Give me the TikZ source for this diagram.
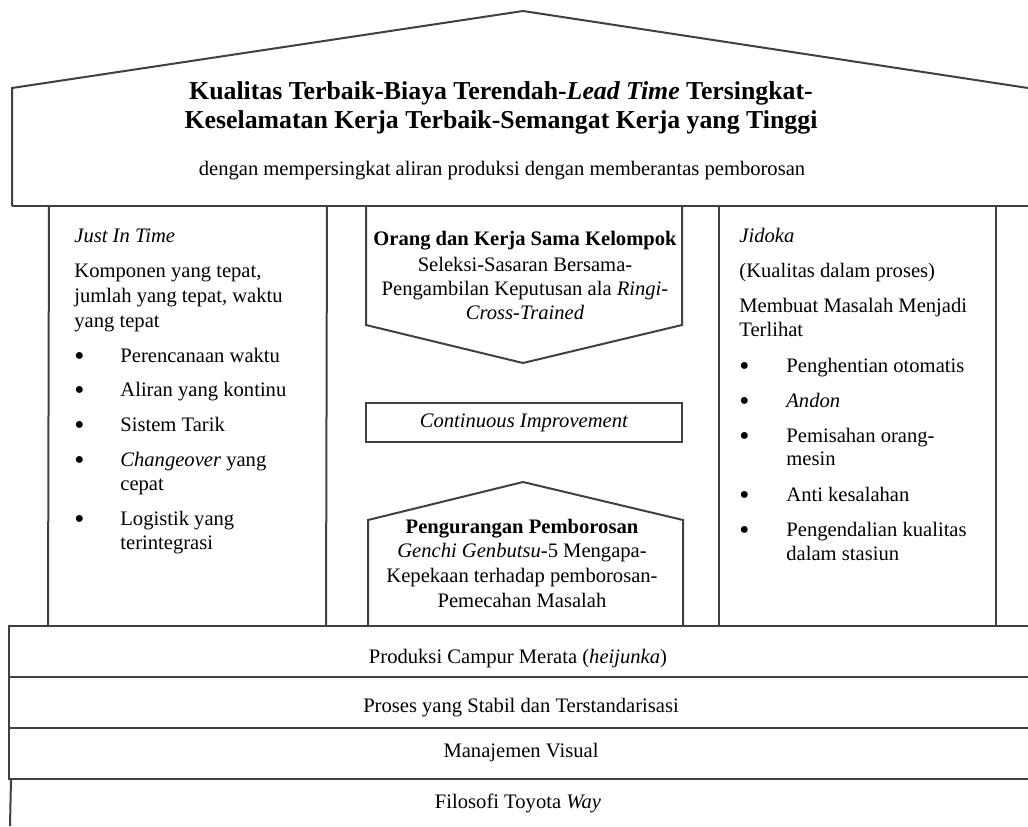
\documentclass[tikz,border=0pt]{standalone}
\usepackage{fontspec}
\usepackage{graphicx}
\setmainfont{Liberation Serif}
\definecolor{frame}{HTML}{404040}
% bullet followed by a fixed indent, for the pillar lists
\newcommand\pillarbullet[1]{\makebox[#1][l]{\raisebox{-1.6pt}{\scalebox{1.4}{\textbullet}}}}
\begin{document}
\begin{tikzpicture}[x=0.5pt,y=-0.5pt,
  wall/.style={draw=frame, line width=1pt, line join=miter},
  txt/.style={inner sep=0pt, font=\fontsize{10.3}{12}\selectfont},
  bold/.style={inner sep=0pt, font=\fontsize{10.3}{12}\selectfont\bfseries},
  head/.style={inner sep=0pt, font=\fontsize{12.9}{14.5}\selectfont\bfseries},
]
\useasboundingbox (0,0) rectangle (1028,826);

% ---- roof ----
\draw[wall] (12,206) -- (12,88) -- (523,11) -- (1028,88);
\draw[wall] (12,206) -- (1028,206);

\node[head, anchor=base] (goal1) at (501,99) {Kualitas Terbaik-Biaya Terendah-\textit{Lead Time} Tersingkat-};
\node[head, anchor=base] (goal2) at (501,128) {Keselamatan Kerja Terbaik-Semangat Kerja yang Tinggi};
\node[txt, anchor=base] (goal3) at (502,175) {dengan mempersingkat aliran produksi dengan memberantas pemborosan};

% ---- left pillar: Just In Time ----
\draw[wall] (49,206) -- (48,626);
\draw[wall] (327,206) -- (326,626);

\node[txt, anchor=base west] (jit0) at (74,242) {\textit{Just In Time}};
\node[txt, anchor=base west] (jit1) at (74,277) {Komponen yang tepat,};
\node[txt, anchor=base west] (jit2) at (74,302) {jumlah yang tepat, waktu};
\node[txt, anchor=base west] (jit3) at (74,327) {yang tepat};
\node[txt, anchor=base west] (jit4) at (74,362) {\pillarbullet{23pt}Perencanaan waktu};
\node[txt, anchor=base west] (jit5) at (74,396) {\pillarbullet{23pt}Aliran yang kontinu};
\node[txt, anchor=base west] (jit6) at (74,431) {\pillarbullet{23pt}Sistem Tarik};
\node[txt, anchor=base west] (jit7) at (74,466) {\pillarbullet{23pt}\textit{Changeover} yang};
\node[txt, anchor=base west] (jit7b) at (120,490) {cepat};
\node[txt, anchor=base west] (jit8) at (74,525) {\pillarbullet{23pt}Logistik yang};
\node[txt, anchor=base west] (jit8b) at (120,549) {terintegrasi};

% ---- centre: people and teamwork, improvement, waste reduction ----
\draw[wall] (366,206) -- (366,325) -- (523,363) -- (682,325) -- (682,206);
\node[bold, anchor=base] (team1) at (525,245) {Orang dan Kerja Sama Kelompok};
\node[txt, anchor=base] (team2) at (525,271) {Seleksi-Sasaran Bersama-};
\node[txt, anchor=base] (team3) at (525,295) {Pengambilan Keputusan ala \textit{Ringi}-};
\node[txt, anchor=base] (team4) at (525,319) {\textit{Cross-Trained}};

\draw[wall] (366,403) rectangle (682,442);
\node[txt, anchor=base] (kaizen) at (524,427) {\textit{Continuous Improvement}};

\draw[wall] (368,626) -- (368,520) -- (523,482) -- (683,520) -- (683,626);
\node[bold, anchor=base] (waste1) at (522,533) {Pengurangan Pemborosan};
\node[txt, anchor=base] (waste2) at (522,557) {\textit{Genchi Genbutsu}-5 Mengapa-};
\node[txt, anchor=base] (waste3) at (522,582) {Kepekaan terhadap pemborosan-};
\node[txt, anchor=base] (waste4) at (522,607) {Pemecahan Masalah};

% ---- right pillar: Jidoka ----
\draw[wall] (719,206) -- (719,626);
\draw[wall] (996,206) -- (996,626);

\node[txt, anchor=base west] (jid0) at (739,242) {\textit{Jidoka}};
\node[txt, anchor=base west] (jid1) at (739,277) {(Kualitas dalam proses)};
\node[txt, anchor=base west] (jid2) at (739,312) {Membuat Masalah Menjadi};
\node[txt, anchor=base west] (jid3) at (739,336) {Terlihat};
\node[txt, anchor=base west] (jid4) at (739,372) {\pillarbullet{23.5pt}Penghentian otomatis};
\node[txt, anchor=base west] (jid5) at (739,407) {\pillarbullet{23.5pt}\textit{Andon}};
\node[txt, anchor=base west] (jid6) at (739,442) {\pillarbullet{23.5pt}Pemisahan orang-};
\node[txt, anchor=base west] (jid6b) at (786,465) {mesin};
\node[txt, anchor=base west] (jid7) at (739,501) {\pillarbullet{23.5pt}Anti kesalahan};
\node[txt, anchor=base west] (jid8) at (739,536) {\pillarbullet{23.5pt}Pengendalian kualitas};
\node[txt, anchor=base west] (jid8b) at (786,560) {dalam stasiun};

% ---- foundation bands ----
\draw[wall] (1028,626) -- (9,626) -- (9,779) -- (1028,779);
\draw[wall] (9,677) -- (1028,677);
\draw[wall] (9,728) -- (1028,728);
\draw[wall] (11,779) -- (10,826);

\node[txt, anchor=base] (base1) at (518,663) {Produksi Campur Merata (\textit{heijunka})};
\node[txt, anchor=base] (base2) at (521,712) {Proses yang Stabil dan Terstandarisasi};
\node[txt, anchor=base] (base3) at (521,757) {Manajemen Visual};
\node[txt, anchor=base] (base4) at (518,808) {Filosofi Toyota \textit{Way}};
\end{tikzpicture}
\end{document}
